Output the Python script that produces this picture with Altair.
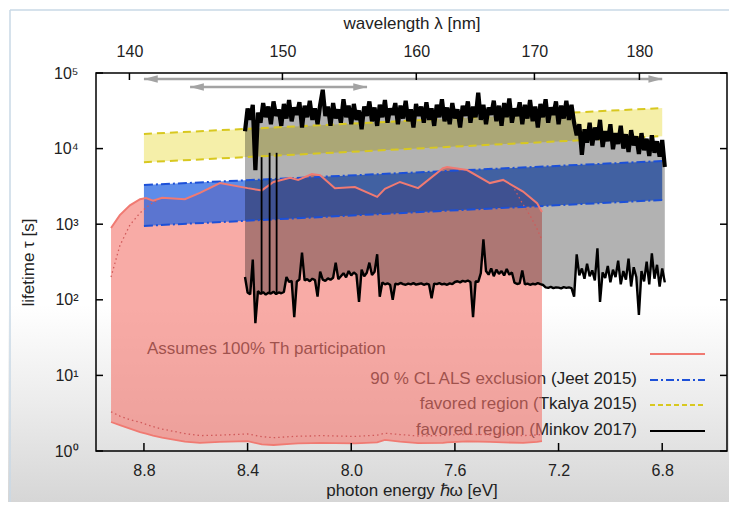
import altair as alt
import pandas as pd
import numpy as np

W, H = 631, 378
FONT = "Liberation Sans"

# ---------------- data ----------------
ev_ticks = [8.8, 8.4, 8.0, 7.6, 7.2, 6.8]
wl_ticks = [140, 150, 160, 170, 180]
tau_ticks = [1, 10, 100, 1000, 10000, 100000]

# Th participation region (pink)
pink_E = [8.927, 8.893, 8.854, 8.815, 8.792, 8.765, 8.73, 8.642, 8.584, 8.507,
          8.40, 8.345, 8.30, 8.236, 8.205, 8.152, 8.12, 8.063, 7.986, 7.90,
          7.87, 7.812, 7.742, 7.646, 7.63, 7.553, 7.465, 7.414, 7.337, 7.283, 7.264]
pink_hi = [890, 1320, 1780, 2140, 2220, 2040, 2230, 2140, 2590, 3500,
           3000, 2800, 3620, 4100, 3850, 4600, 4450, 3000, 3100, 2300,
           2940, 3620, 3000, 5500, 5700, 5200, 3500, 3850, 2700, 1900, 1450]
pink_lo = [2.42, 2.2, 1.98, 1.78, 1.7, 1.6, 1.5, 1.33, 1.28, 1.32,
           1.35, 1.22, 1.2, 1.24, 1.26, 1.27, 1.28, 1.27, 1.26, 1.3,
           1.4, 1.33, 1.27, 1.28, 1.3, 1.34, 1.32, 1.3, 1.28, 1.32, 1.35]
pink_lo_dot = [3.3, 2.9, 2.6, 2.4, 2.25, 2.1, 1.95, 1.7, 1.6, 1.62,
               1.68, 1.55, 1.5, 1.55, 1.57, 1.58, 1.6, 1.58, 1.56, 1.62,
               1.72, 1.65, 1.58, 1.6, 1.62, 1.66, 1.64, 1.62, 1.6, 1.63, 1.66]
pink_dotL_E = [8.927, 8.893, 8.854, 8.815, 8.78, 8.74]
pink_dotL = [200, 520, 980, 1410, 1790, 2150]
pink_dotR_E = [7.37, 7.34, 7.31, 7.285, 7.264]
pink_dotR = [2900, 1900, 1300, 900, 615]

# Jeet 2015 (blue) and Tkalya 2015 (yellow) bands
jeet_E = [8.8, 6.8]
jeet_hi = [3300, 6850]
jeet_lo = [950, 2090]
tkalya_E = [8.8, 6.8]
tkalya_hi = [15600, 34400]
tkalya_lo = [6600, 14600]

# Minkov 2017 (measured traces)
minkov_E = np.round(np.linspace(8.41, 6.79, 163), 3)
minkov_hi = [
    17000, 34000, 24000, 38000, 5200, 30000, 22000, 40000, 26000, 36000,
    21000, 42000, 27000, 33000, 20000, 39000, 25000, 44000, 23000, 35000,
    28000, 41000, 19000, 37000, 26000, 43000, 24000, 34000, 21000, 38000,
    60000, 27000, 36000, 20000, 40000, 25000, 33000, 22000, 45000, 26000,
    37000, 21000, 39000, 24000, 32000, 18000, 36000, 27000, 42000, 23000,
    35000, 20000, 38000, 26000, 44000, 22000, 34000, 28000, 40000, 21000,
    37000, 25000, 43000, 23000, 33000, 19000, 39000, 27000, 36000, 22000,
    41000, 24000, 34000, 20000, 38000, 26000, 45000, 23000, 35000, 21000,
    40000, 25000, 33000, 19000, 37000, 27000, 42000, 22000, 36000, 26000,
    55000, 24000, 38000, 21000, 35000, 28000, 43000, 23000, 37000, 20000,
    40000, 26000, 46000, 22000, 34000, 27000, 41000, 21000, 38000, 25000,
    44000, 23000, 36000, 19000, 39000, 26000, 45000, 22000, 35000, 28000,
    42000, 21000, 37000, 25000, 43000, 24000, 38000, 22000, 15000, 21000,
    8300, 18000, 12000, 22000, 11000, 19000, 13000, 24000, 10500, 17000,
    12500, 21000, 9800, 16000, 11500, 20000, 10000, 15500, 9000, 17500,
    11000, 14500, 8500, 16000, 9500, 13500, 8000, 15000, 8800, 12500,
    7800, 13000, 5700]
minkov_lo = [
    200, 125, 118, 340, 49, 130, 120, 126, 117, 124,
    121, 128, 119, 125, 122, 127, 200, 172, 178, 59,
    175, 185, 420, 180, 188, 176, 190, 182, 110, 235,
    185, 178, 192, 184, 196, 310, 188, 205, 225, 198,
    240, 210, 230, 215, 94, 250, 205, 228, 310, 212,
    235, 400, 110, 170, 160, 165, 158, 100, 163, 160,
    167, 161, 158, 164, 160, 166, 159, 162, 165, 158,
    163, 160, 105, 164, 161, 166, 160, 163, 158, 165,
    161, 172, 176, 170, 178, 174, 180, 172, 59, 176,
    173, 225, 630, 240, 215, 260, 205, 250, 220, 240,
    210, 255, 215, 230, 168, 162, 165, 245, 160, 164,
    158, 163, 160, 166, 161, 157, 146, 144, 148, 143,
    146, 145, 142, 147, 144, 146, 143, 110, 400, 210,
    260, 190, 300, 205, 245, 180, 480, 94, 230, 195,
    280, 170, 250, 200, 330, 160, 240, 185, 350, 150,
    270, 200, 63, 240, 175, 320, 160, 410, 190, 290,
    150, 260, 170]
spike_E = [8.346, 8.315, 8.288]
spike_lo = [118, 120, 119]
spike_hi = [7700, 8800, 8800]

# scan-range arrows
arrow_E1 = [8.8, 8.622]
arrow_E2 = [6.8, 7.939]
arrow_tau = [83300, 65300]

# ---------------- frames ----------------
pink_df = pd.DataFrame({"E": pink_E, "tau": pink_hi, "tau2": pink_lo})
pink_lo_df = pd.DataFrame({"E": pink_E, "tau": pink_lo})
pink_lodot_df = pd.DataFrame({"E": pink_E, "tau": pink_lo_dot})
pink_dotL_df = pd.DataFrame({"E": pink_dotL_E, "tau": pink_dotL})
pink_dotR_df = pd.DataFrame({"E": pink_dotR_E, "tau": pink_dotR})
jeet_df = pd.DataFrame({"E": jeet_E, "tau": jeet_hi, "tau2": jeet_lo})
tk_df = pd.DataFrame({"E": tkalya_E, "tau": tkalya_hi, "tau2": tkalya_lo})
mk_df = pd.DataFrame({"E": minkov_E, "tau": minkov_hi, "tau2": minkov_lo})
spike_df = pd.DataFrame({"E": spike_E, "tau": spike_lo, "tau2": spike_hi})
arrow_df = pd.DataFrame({"E": arrow_E1, "E2": arrow_E2, "tau": arrow_tau})
headL_df = pd.DataFrame({"E": arrow_E1, "tau": arrow_tau})
headR_df = pd.DataFrame({"E": arrow_E2, "tau": arrow_tau})
one = pd.DataFrame({"k": [0]})

xs = alt.Scale(domain=[8.985, 6.55], nice=False, zero=False)
ys = alt.Scale(type="log", domain=[1, 100000], nice=False)

X = lambda f="E": alt.X(f"{f}:Q", scale=xs, axis=None)
Y = lambda f="tau": alt.Y(f"{f}:Q", scale=ys, axis=None)

PINK = "#f07a72"
BLUE = "#1c50d8"
YEL = "#d8c820"
GRAY_ARROW = "#a3a3a3"

AX = dict(grid=False, ticks=False, domain=False, zindex=2,
          labelFont=FONT, labelFontSize=16, labelColor="#222222",
          titleFont=FONT, titleFontSize=17, titleFontWeight="normal", titleColor="#222222")

layers = []

# background of the screenshot (white fading into light grey)
grad = alt.LinearGradient(
    gradient="linear", x1=0, y1=0, x2=0, y2=1,
    stops=[alt.GradientStop(color="#ffffff", offset=0),
           alt.GradientStop(color="#ffffff", offset=0.6),
           alt.GradientStop(color="#ececec", offset=0.8),
           alt.GradientStop(color="#d6d6d6", offset=1)])
layers.append(alt.Chart(one).mark_rect(color=grad, clip=False).encode(
    x=alt.value(-88), x2=alt.value(W + 2), y=alt.value(-65), y2=alt.value(H + 51)))
layers.append(alt.Chart(one).mark_rule(color="#c9d8e6", strokeWidth=1.5, clip=False).encode(
    x=alt.value(-86), x2=alt.value(W + 2), y=alt.value(-63)))
layers.append(alt.Chart(one).mark_rule(color="#c9d8e6", strokeWidth=1.5, clip=False).encode(
    x=alt.value(-86), y=alt.value(-63), y2=alt.value(H + 51)))

# legend labels (drawn under the translucent pink region)
def label(txt, x, y, align):
    return alt.Chart(one).mark_text(align=align, baseline="middle", font=FONT,
                                     fontSize=17, color="#222222").encode(
        x=alt.value(x), y=alt.value(y), text=alt.value(txt))

layers.append(label("Assumes 100% Th participation", 51, 276, "left"))
layers.append(label("90 % CL ALS exclusion (Jeet 2015)", 541, 306, "right"))
layers.append(label("favored region (Tkalya 2015)", 541, 331, "right"))
layers.append(label("favored region (Minkov 2017)", 541, 357, "right"))

# filled regions
layers.append(alt.Chart(pink_df).mark_area(color="#f4736a", opacity=0.6, clip=True).encode(
    x=X(), y=Y(), y2="tau2:Q"))
layers.append(alt.Chart(jeet_df).mark_area(color="#1f5fe0", opacity=0.72, clip=True).encode(
    x=X(), y=Y(), y2="tau2:Q"))
layers.append(alt.Chart(tk_df).mark_area(color="#e8dc40", opacity=0.45, clip=True).encode(
    x=X(), y=Y(), y2="tau2:Q"))
layers.append(alt.Chart(mk_df).mark_area(color="#000000", opacity=0.3, clip=True).encode(
    x=X(), y=Y(), y2="tau2:Q"))

# band edges
for col in ["tau", "tau2"]:
    layers.append(alt.Chart(jeet_df).mark_line(color=BLUE, strokeWidth=2, strokeDash=[9, 3, 2, 3], clip=True).encode(
        x=X(), y=Y(col)))
    layers.append(alt.Chart(tk_df).mark_line(color=YEL, strokeWidth=2, strokeDash=[8, 5], clip=True).encode(
        x=X(), y=Y(col)))

# pink outlines
for d in [pink_lodot_df, pink_dotL_df, pink_dotR_df]:
    layers.append(alt.Chart(d).mark_line(color="#d05a5a", strokeWidth=1.3, strokeDash=[1.5, 3], clip=True).encode(
        x=X(), y=Y()))
layers.append(alt.Chart(pink_df).mark_line(color=PINK, strokeWidth=2, clip=True).encode(x=X(), y=Y()))
layers.append(alt.Chart(pink_lo_df).mark_line(color=PINK, strokeWidth=1.8, clip=True).encode(x=X(), y=Y()))

# Minkov traces
layers.append(alt.Chart(mk_df).mark_line(color="black", strokeWidth=4.2, strokeJoin="bevel", clip=True).encode(
    x=X(), y=Y()))
layers.append(alt.Chart(mk_df).mark_line(color="black", strokeWidth=2.4, strokeJoin="bevel", clip=True).encode(
    x=X(), y=Y("tau2")))
layers.append(alt.Chart(spike_df).mark_rule(color="black", strokeWidth=1.8, clip=True).encode(
    x=X(), y=Y(), y2="tau2:Q"))

# arrows
layers.append(alt.Chart(arrow_df).mark_rule(color=GRAY_ARROW, strokeWidth=2.5).encode(
    x=X(), x2="E2:Q", y=Y()))
layers.append(alt.Chart(headL_df).mark_point(shape="M 0 0 L 2 -0.55 L 2 0.55 Z", filled=True, size=190,
                                             color=GRAY_ARROW, opacity=1).encode(x=X(), y=Y()))
layers.append(alt.Chart(headR_df).mark_point(shape="M 0 0 L -2 -0.55 L -2 0.55 Z", filled=True, size=190,
                                             color=GRAY_ARROW, opacity=1).encode(x=X(), y=Y()))

# legend samples
def sample(y, color, dash=None):
    kw = dict(color=color, strokeWidth=2)
    if dash:
        kw["strokeDash"] = dash
    return alt.Chart(one).mark_rule(**kw).encode(x=alt.value(554), x2=alt.value(609), y=alt.value(y))

layers.append(sample(281, PINK))
layers.append(sample(307, BLUE, [8, 3, 2, 3]))
layers.append(sample(332, YEL, [5, 3]))
layers.append(sample(358, "black"))

# frame
layers.append(alt.Chart(one).mark_rect(fillOpacity=0, stroke="black", strokeWidth=1.5).encode(
    x=alt.value(0), x2=alt.value(W), y=alt.value(0), y2=alt.value(H)))

# inward ticks + axes
ev_df = pd.DataFrame({"E": ev_ticks})
wl_df = pd.DataFrame({"lam": wl_ticks})
tau_df = pd.DataFrame({"tau": tau_ticks})

layers.append(alt.Chart(ev_df).mark_rule(color="black", strokeWidth=1.5).encode(
    x=alt.X("E:Q", scale=xs, axis=alt.Axis(values=ev_ticks, format=".1f", labelPadding=11,
                                           title="photon energy ℏω [eV]", titlePadding=4, **AX)),
    y=alt.value(H), y2=alt.value(H - 8)))
layers.append(alt.Chart(wl_df).transform_calculate(E="1239.84/datum.lam").mark_rule(
    color="black", strokeWidth=1.5).encode(
    x=alt.X("E:Q", scale=xs, axis=alt.Axis(orient="top", values=[1239.84 / w for w in wl_ticks],
                                           labelExpr="format(1239.84/datum.value, '.0f')",
                                           labelPadding=14, title="wavelength λ [nm]", titlePadding=11, **AX)),
    y=alt.value(0), y2=alt.value(7)))
layers.append(alt.Chart(tau_df).mark_rule(color="black", strokeWidth=1.5).encode(
    y=alt.Y("tau:Q", scale=ys, axis=alt.Axis(
        values=tau_ticks, labelPadding=18, title="lifetime τ [s]", titlePadding=16,
        labelExpr="'10' + ['⁰','¹','²','³','⁴','⁵'][round(log(datum.value)/LN10)]", **AX)),
    x=alt.value(0), x2=alt.value(7)))
layers.append(alt.Chart(tau_df).mark_rule(color="black", strokeWidth=1.5).encode(
    y=Y(), x=alt.value(W - 7), x2=alt.value(W)))

chart = alt.layer(*layers).resolve_axis(x="independent", y="independent").properties(
    width=W, height=H,
    autosize=alt.AutoSizeParams(type="none"),
    padding={"left": 88, "top": 65, "right": 2, "bottom": 51},
).configure_view(strokeOpacity=0)

chart.save("out.html", embed_options={"renderer": "svg", "actions": False})
